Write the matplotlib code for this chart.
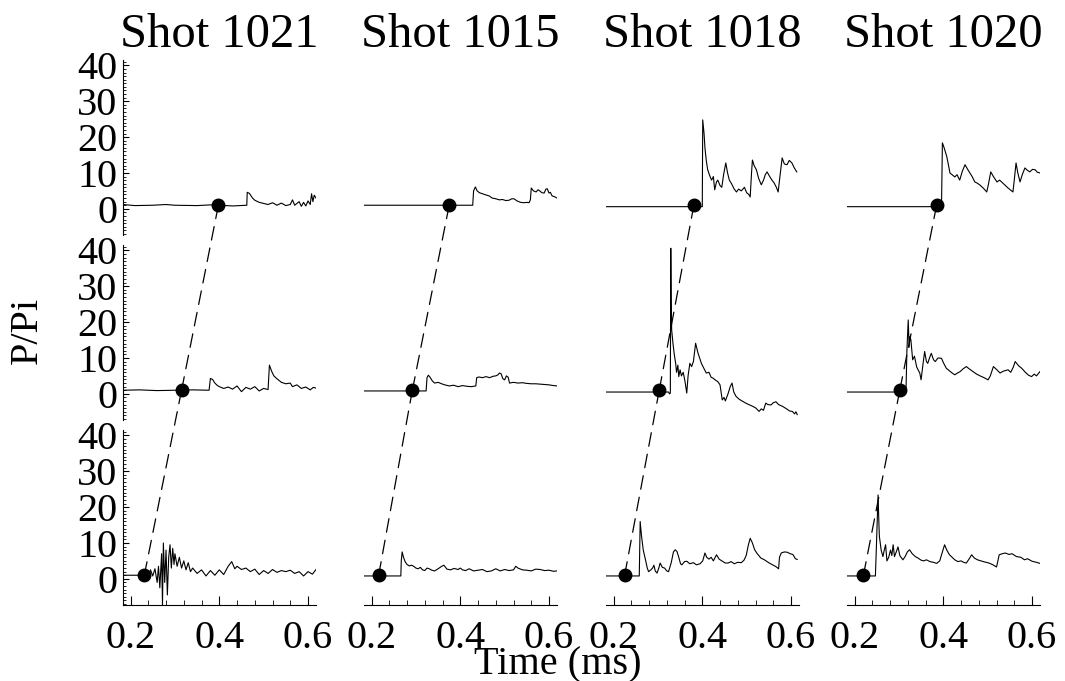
import matplotlib.pyplot as plt
from matplotlib.patches import ConnectionPatch
from matplotlib.ticker import MultipleLocator

plt.rcParams['font.family'] = ['Liberation Serif', 'DejaVu Serif']

# ---------------------- data ------------------------------------------
shots = ['Shot 1021', 'Shot 1015', 'Shot 1018', 'Shot 1020']
x_ticks = [0.2, 0.4, 0.6]
y_ticks = [0, 10, 20, 30, 40]
p_initial = 1.0

# shock arrival time (ms) at each gauge, top gauge first
arrival_1021 = [0.398, 0.315, 0.231]
arrival_1015 = [0.375, 0.292, 0.216]
arrival_1018 = [0.381, 0.303, 0.225]
arrival_1020 = [0.385, 0.302, 0.220]

# pressure traces, (time ms, P/Pi), gauges g1 (top) .. g3 (bottom)
s1021_g1 = [(0.183, 1.2), (0.21, 0.9), (0.25, 1.0), (0.28, 1.2), (0.30, 1.0), (0.35, 0.9),
            (0.38, 1.1), (0.40, 1.0), (0.43, 0.8), (0.462, 1.0), (0.463, 4.6), (0.468, 4.3),
            (0.475, 3.0), (0.48, 2.4), (0.49, 1.8), (0.50, 1.5), (0.51, 1.2), (0.52, 1.7),
            (0.53, 1.0), (0.54, 1.6), (0.55, 0.9), (0.56, 1.2), (0.565, 2.5), (0.57, 1.0),
            (0.58, 2.0), (0.585, 0.7), (0.59, 1.8), (0.595, 0.8), (0.60, 2.2), (0.605, 1.2),
            (0.608, 4.2), (0.611, 2.0), (0.614, 3.8), (0.618, 3.0)]
s1021_g2 = [(0.183, 1.0), (0.22, 1.1), (0.26, 0.9), (0.30, 1.0), (0.34, 1.1), (0.377, 1.0),
            (0.38, 4.3), (0.385, 4.0), (0.39, 3.0), (0.395, 2.4), (0.40, 2.0), (0.41, 1.5),
            (0.42, 1.9), (0.43, 1.3), (0.44, 2.2), (0.45, 0.6), (0.46, 1.8), (0.47, 1.3),
            (0.48, 2.0), (0.49, 0.8), (0.50, 1.5), (0.51, 1.2), (0.513, 8.0), (0.518, 6.3),
            (0.523, 5.0), (0.53, 4.2), (0.54, 3.2), (0.55, 2.8), (0.56, 3.0), (0.565, 2.0),
            (0.575, 2.5), (0.585, 1.5), (0.595, 1.9), (0.605, 1.1), (0.612, 1.8), (0.618, 1.6)]
s1021_g3 = [(0.183, 1.0), (0.231, 1.0), (0.24, 0.5), (0.245, 2.5), (0.25, 0.8), (0.255, 2.8),
            (0.26, -1.0), (0.263, 3.5), (0.266, -2.5), (0.27, 7.0), (0.272, -7.3), (0.274, 10.0),
            (0.277, -1.0), (0.28, 8.0), (0.283, -4.5), (0.286, 6.0), (0.289, 9.5), (0.292, 3.0),
            (0.295, 8.5), (0.298, 4.0), (0.30, 7.0), (0.305, 3.5), (0.31, 6.0), (0.315, 3.0),
            (0.32, 5.0), (0.325, 2.5), (0.33, 4.5), (0.335, 2.0), (0.34, 3.0), (0.35, 1.5),
            (0.36, 2.5), (0.37, 0.8), (0.38, 2.3), (0.39, 1.0), (0.40, 2.5), (0.41, 1.2),
            (0.42, 3.5), (0.428, 4.8), (0.435, 2.8), (0.44, 3.5), (0.45, 2.6), (0.46, 3.0),
            (0.47, 2.0), (0.48, 2.7), (0.49, 1.2), (0.50, 2.3), (0.51, 1.5), (0.52, 2.6),
            (0.53, 1.8), (0.54, 2.3), (0.55, 2.0), (0.56, 2.4), (0.57, 1.5), (0.58, 2.0),
            (0.59, 0.8), (0.60, 2.0), (0.61, 1.3), (0.618, 2.6)]

s1015_g1 = [(0.183, 1.0), (0.428, 1.0), (0.430, 5.0), (0.434, 6.1), (0.438, 5.0), (0.443, 4.5),
            (0.45, 4.2), (0.457, 3.9), (0.465, 3.6), (0.472, 3.0), (0.48, 2.8), (0.488, 2.5),
            (0.495, 2.6), (0.503, 2.3), (0.51, 2.4), (0.516, 2.8), (0.521, 2.8), (0.528, 2.2),
            (0.536, 1.8), (0.544, 1.7), (0.55, 1.8), (0.555, 1.7), (0.558, 2.5), (0.560, 5.8),
            (0.565, 5.0), (0.571, 4.7), (0.575, 5.3), (0.578, 5.1), (0.584, 4.5), (0.589, 4.4),
            (0.593, 5.5), (0.596, 5.6), (0.60, 4.4), (0.603, 4.6), (0.607, 3.6), (0.612, 3.4),
            (0.618, 3.0)]
s1015_g2 = [(0.183, 0.8), (0.323, 0.8), (0.325, 4.5), (0.328, 5.2), (0.332, 4.6), (0.337, 3.6),
            (0.342, 3.0), (0.35, 3.2), (0.358, 2.8), (0.365, 2.5), (0.375, 2.2), (0.385, 2.4),
            (0.395, 2.0), (0.405, 2.3), (0.415, 2.1), (0.425, 2.0), (0.435, 2.2), (0.437, 4.5),
            (0.442, 4.7), (0.45, 4.5), (0.458, 4.8), (0.466, 4.5), (0.474, 4.9), (0.48, 5.0),
            (0.485, 5.3), (0.488, 5.8), (0.492, 5.6), (0.496, 4.2), (0.50, 3.9), (0.504, 5.0),
            (0.508, 4.6), (0.511, 3.0), (0.52, 3.2), (0.53, 3.0), (0.54, 3.1), (0.55, 2.9),
            (0.56, 2.8), (0.57, 2.8), (0.58, 2.7), (0.59, 2.6), (0.60, 2.5), (0.61, 2.3),
            (0.618, 2.2)]
s1015_g3 = [(0.183, 0.8), (0.266, 0.8), (0.267, 5.0), (0.269, 7.5), (0.272, 6.0), (0.276, 4.7),
            (0.28, 4.0), (0.285, 3.6), (0.29, 3.8), (0.295, 3.5), (0.30, 3.0), (0.305, 2.8),
            (0.31, 3.2), (0.315, 2.5), (0.32, 2.3), (0.325, 3.0), (0.33, 2.8), (0.336, 2.4),
            (0.342, 2.2), (0.35, 2.8), (0.357, 3.4), (0.363, 3.8), (0.37, 2.7), (0.378, 2.5),
            (0.386, 2.9), (0.395, 2.6), (0.40, 3.0), (0.405, 2.5), (0.412, 2.3), (0.42, 2.8),
            (0.43, 2.2), (0.44, 2.4), (0.45, 2.6), (0.46, 2.0), (0.47, 2.2), (0.48, 2.8),
            (0.49, 2.2), (0.50, 2.6), (0.51, 2.3), (0.52, 2.5), (0.525, 3.5), (0.53, 3.0),
            (0.54, 2.5), (0.55, 2.4), (0.56, 2.2), (0.57, 2.7), (0.58, 2.6), (0.59, 2.3),
            (0.60, 2.4), (0.61, 2.1), (0.618, 2.2)]

s1018_g1 = [(0.183, 0.6), (0.400, 0.6), (0.401, 24.8), (0.404, 21.0), (0.406, 17.0), (0.409, 13.5),
            (0.412, 11.0), (0.416, 9.5), (0.421, 8.0), (0.425, 9.0), (0.428, 5.3), (0.432, 7.5),
            (0.435, 8.0), (0.44, 6.5), (0.444, 6.0), (0.448, 9.5), (0.453, 12.8), (0.457, 10.0),
            (0.461, 8.0), (0.466, 7.0), (0.472, 5.5), (0.477, 4.7), (0.482, 5.5), (0.488, 5.0),
            (0.495, 6.0), (0.50, 4.5), (0.505, 4.0), (0.508, 3.3), (0.511, 10.0), (0.513, 13.6),
            (0.517, 12.0), (0.522, 10.9), (0.527, 8.5), (0.533, 6.7), (0.538, 8.0), (0.542, 9.5),
            (0.546, 10.3), (0.552, 9.0), (0.557, 8.0), (0.562, 7.2), (0.567, 6.0), (0.571, 4.7),
            (0.575, 9.0), (0.580, 14.2), (0.585, 12.5), (0.591, 12.3), (0.596, 13.5), (0.602, 12.8),
            (0.607, 11.5), (0.613, 10.3)]
s1018_g2 = [(0.183, 0.5), (0.324, 0.5), (0.326, 0.0), (0.328, 0.2), (0.329, 40.6), (0.330, 25.0),
            (0.331, 17.8), (0.334, 14.0), (0.337, 10.9), (0.34, 8.5), (0.342, 6.0), (0.345, 8.0),
            (0.347, 4.8), (0.35, 6.7), (0.353, 5.0), (0.357, 6.0), (0.361, 3.5), (0.365, 0.2),
            (0.368, 5.0), (0.372, 8.5), (0.376, 7.6), (0.38, 9.0), (0.385, 14.1), (0.39, 11.5),
            (0.394, 10.0), (0.398, 8.5), (0.404, 7.0), (0.409, 5.8), (0.415, 6.0), (0.42, 4.6),
            (0.424, 4.4), (0.43, 3.8), (0.435, 3.4), (0.44, 2.5), (0.445, -1.7), (0.449, -1.0),
            (0.452, -2.0), (0.458, 0.0), (0.463, 2.0), (0.467, 3.0), (0.471, 0.5), (0.476, -0.7),
            (0.483, -1.5), (0.491, -2.1), (0.498, -2.6), (0.505, -3.0), (0.514, -3.5), (0.521, -4.0),
            (0.528, -4.9), (0.533, -4.2), (0.538, -4.6), (0.543, -2.6), (0.548, -3.0), (0.555, -3.1),
            (0.56, -2.5), (0.566, -2.2), (0.572, -3.0), (0.581, -3.5), (0.59, -4.2), (0.597, -4.8),
            (0.603, -4.9), (0.608, -5.6), (0.611, -5.0), (0.614, -5.8)]
s1018_g3 = [(0.183, 0.8), (0.258, 0.8), (0.260, 16.0), (0.263, 12.0), (0.267, 8.0), (0.272, 5.3),
            (0.276, 3.0), (0.279, 2.0), (0.284, 2.5), (0.288, 3.0), (0.291, 3.8), (0.294, 2.2),
            (0.298, 1.6), (0.302, 3.0), (0.305, 4.4), (0.31, 3.2), (0.315, 3.0), (0.32, 2.2),
            (0.324, 2.0), (0.33, 4.5), (0.335, 7.5), (0.339, 8.1), (0.343, 7.6), (0.347, 6.0),
            (0.351, 4.2), (0.354, 3.9), (0.36, 4.8), (0.365, 4.9), (0.372, 4.2), (0.38, 4.5),
            (0.387, 3.9), (0.395, 4.2), (0.401, 5.0), (0.406, 7.2), (0.41, 6.0), (0.415, 5.5),
            (0.42, 6.0), (0.425, 5.0), (0.432, 6.7), (0.438, 5.5), (0.444, 5.0), (0.452, 4.4),
            (0.458, 4.4), (0.465, 4.8), (0.472, 4.2), (0.48, 4.6), (0.488, 4.5), (0.494, 5.2),
            (0.499, 6.5), (0.504, 9.5), (0.508, 11.3), (0.513, 10.0), (0.518, 8.1), (0.524, 7.0),
            (0.532, 5.8), (0.54, 5.3), (0.551, 4.4), (0.56, 3.8), (0.566, 3.4), (0.572, 2.8),
            (0.574, 6.0), (0.578, 7.2), (0.585, 7.5), (0.592, 7.4), (0.598, 7.0), (0.604, 6.8),
            (0.61, 5.6), (0.614, 5.4)]

s1020_g1 = [(0.183, 0.6), (0.396, 0.6), (0.398, 18.4), (0.402, 17.0), (0.408, 14.5), (0.412, 12.0),
            (0.415, 10.0), (0.42, 9.5), (0.426, 8.9), (0.431, 9.5), (0.437, 8.0), (0.443, 10.5),
            (0.449, 12.3), (0.455, 11.0), (0.46, 10.0), (0.465, 9.0), (0.471, 7.5), (0.476, 7.2),
            (0.482, 6.7), (0.49, 5.8), (0.498, 4.7), (0.502, 7.0), (0.507, 10.3), (0.513, 9.0),
            (0.521, 7.5), (0.527, 8.0), (0.534, 7.2), (0.54, 6.5), (0.546, 5.8), (0.552, 5.2),
            (0.557, 4.7), (0.56, 8.0), (0.564, 12.8), (0.568, 10.0), (0.573, 7.5), (0.578, 9.5),
            (0.584, 11.4), (0.589, 10.8), (0.595, 10.3), (0.601, 11.0), (0.607, 10.9), (0.612, 10.2),
            (0.618, 10.0)]
s1020_g2 = [(0.183, 0.5), (0.313, 0.5), (0.316, 1.0), (0.318, 12.0), (0.321, 20.6), (0.323, 13.0),
            (0.325, 16.0), (0.327, 15.0), (0.331, 9.5), (0.335, 10.5), (0.34, 7.5), (0.344, 6.5),
            (0.347, 5.8), (0.35, 3.9), (0.354, 8.0), (0.358, 11.8), (0.362, 9.0), (0.365, 8.5),
            (0.369, 10.0), (0.373, 11.3), (0.378, 9.5), (0.382, 9.0), (0.388, 10.0), (0.396, 9.9),
            (0.401, 8.5), (0.407, 7.1), (0.413, 6.5), (0.42, 5.8), (0.426, 5.3), (0.432, 5.8),
            (0.438, 6.2), (0.445, 7.0), (0.452, 7.6), (0.458, 7.0), (0.467, 6.2), (0.475, 5.5),
            (0.483, 5.0), (0.492, 4.5), (0.501, 3.9), (0.506, 5.0), (0.513, 7.6), (0.52, 6.8),
            (0.528, 5.8), (0.535, 6.3), (0.546, 6.7), (0.552, 6.0), (0.558, 7.5), (0.562, 9.0),
            (0.57, 7.8), (0.577, 7.1), (0.585, 6.0), (0.592, 5.2), (0.599, 4.8), (0.605, 5.5),
            (0.61, 5.0), (0.618, 6.2)]
s1020_g3 = [(0.183, 0.8), (0.247, 0.8), (0.249, 8.0), (0.253, 23.4), (0.255, 15.0), (0.256, 11.8),
            (0.26, 8.0), (0.264, 6.2), (0.267, 8.0), (0.27, 9.5), (0.273, 5.0), (0.277, 6.0),
            (0.281, 8.0), (0.284, 6.5), (0.287, 9.5), (0.29, 6.2), (0.294, 7.5), (0.298, 8.9),
            (0.302, 6.5), (0.306, 5.8), (0.309, 5.3), (0.314, 6.2), (0.319, 7.5), (0.324, 8.1),
            (0.33, 7.0), (0.337, 6.2), (0.343, 5.8), (0.35, 5.2), (0.356, 5.0), (0.362, 5.3),
            (0.37, 4.8), (0.378, 4.6), (0.385, 4.3), (0.392, 5.0), (0.398, 7.5), (0.403, 9.5),
            (0.408, 8.0), (0.414, 6.7), (0.42, 6.0), (0.426, 5.3), (0.433, 4.8), (0.44, 5.0),
            (0.446, 4.6), (0.452, 4.4), (0.458, 5.5), (0.464, 6.7), (0.47, 5.8), (0.477, 5.3),
            (0.485, 5.0), (0.493, 4.7), (0.50, 4.5), (0.505, 4.3), (0.512, 3.9), (0.52, 3.3),
            (0.524, 5.5), (0.526, 6.7), (0.533, 7.0), (0.54, 7.2), (0.548, 6.8), (0.555, 7.0),
            (0.565, 6.2), (0.575, 6.0), (0.583, 5.3), (0.59, 5.6), (0.60, 4.9), (0.61, 4.6),
            (0.618, 4.3)]

arrivals = [arrival_1021, arrival_1015, arrival_1018, arrival_1020]
traces = [[s1021_g1, s1021_g2, s1021_g3],
          [s1015_g1, s1015_g2, s1015_g3],
          [s1018_g1, s1018_g2, s1018_g3],
          [s1020_g1, s1020_g2, s1020_g3]]

# ---------------------- layout (pixels) --------------------------------
W, H = 1065, 681
col_left = [123, 364, 606, 847]
row_top = [60, 245, 430]
aw, ah = 193, 175
xlim = (0.183, 0.618)
ylim = (-7.3, 41.5)

fig = plt.figure(figsize=(W / 100, H / 100), dpi=100)

axes = []
for c in range(4):
    col_axes = []
    for r in range(3):
        ax = fig.add_axes([col_left[c] / W, 1 - (row_top[r] + ah) / H, aw / W, ah / H])
        ax.patch.set_alpha(0)
        t, p = zip(*traces[c][r])
        ax.plot(t, p, color='black', lw=0.8)
        ax.plot(arrivals[c][r], p_initial, 'o', ms=9, color='black', zorder=5)
        ax.set_xlim(*xlim)
        ax.set_ylim(*ylim)
        for s in ['top', 'right']:
            ax.spines[s].set_visible(False)
        ax.spines['left'].set_visible(c == 0)
        ax.spines['bottom'].set_visible(r == 2)
        ax.spines['left'].set_linewidth(0.8)
        ax.spines['bottom'].set_linewidth(0.8)
        if c == 0:
            ax.set_yticks(y_ticks)
            ax.yaxis.set_minor_locator(MultipleLocator(1))
            ax.tick_params(axis='y', which='major', direction='in', length=4, width=0.8,
                           labelsize=29, pad=4)
            ax.tick_params(axis='y', which='minor', direction='in', length=1.8, width=0.6)
        else:
            ax.set_yticks([])
        if r == 2:
            ax.set_xticks(x_ticks)
            ax.set_xticklabels(['%.1f' % v for v in x_ticks])
            ax.xaxis.set_minor_locator(MultipleLocator(0.04))
            ax.tick_params(axis='x', which='major', direction='in', length=6.5, width=0.8,
                           labelsize=29, pad=11)
            ax.tick_params(axis='x', which='minor', direction='in', length=3.5, width=0.6)
        else:
            ax.set_xticks([])
        col_axes.append(ax)
    axes.append(col_axes)

# dashed shock trajectory joining the arrival points
for c in range(4):
    for r in (2, 1):
        con = ConnectionPatch(xyA=(arrivals[c][r], p_initial), coordsA=axes[c][r].transData,
                              xyB=(arrivals[c][r - 1], p_initial), coordsB=axes[c][r - 1].transData,
                              color='black', lw=0.9, linestyle=(0, (11, 6.5)))
        fig.add_artist(con)

for c in range(4):
    fig.text((col_left[c] + aw / 2) / W, 1 - 47 / H, shots[c], fontsize=35,
             ha='center', va='baseline')

fig.text(27 / W, 1 - 330 / H, 'P/Pi', fontsize=29, rotation=90, ha='center', va='center')
fig.text(558 / W, 1 - 674 / H, 'Time (ms)', fontsize=29, ha='center', va='baseline')

fig.savefig('out.png', dpi=100)
